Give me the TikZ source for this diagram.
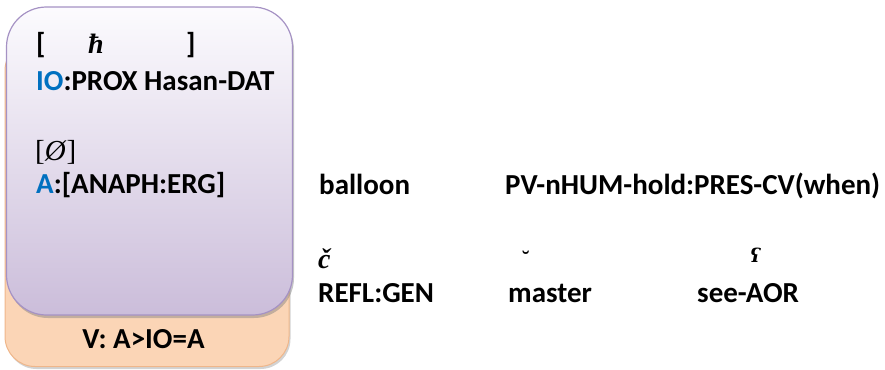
\documentclass[tikz,border=0pt]{standalone}
\usepackage{fontspec}
\setmainfont{Carlito}
\newfontfamily\symfont{DejaVu Serif}
\newfontfamily\serfont{Liberation Serif}
\usetikzlibrary{shadows}
\definecolor{lavtop}{HTML}{FCFBFE}
\definecolor{lavbot}{HTML}{CBBDDA}
\definecolor{lavedge}{HTML}{A592C4}
\definecolor{peach}{HTML}{FBD5B6}
\definecolor{peachedge}{HTML}{EFB68A}
\definecolor{roleblue}{HTML}{0070C0}
\tikzset{
  lbl/.style={anchor=base west, inner sep=0pt, font=\fontsize{29}{35}\selectfont\bfseries},
  sym/.style={anchor=base west, inner sep=0pt, font=\fontsize{28}{33}\selectfont\serfont\bfseries\itshape},
  vbox/.style={draw=peachedge, line width=1pt, fill=peach, rounded corners=30pt,
    drop shadow={shadow xshift=1.5pt, shadow yshift=-2.5pt, opacity=0.35}},
  argbox/.style={draw=lavedge, line width=1.2pt, rounded corners=40pt, top color=lavtop, bottom color=lavbot,
    drop shadow={shadow xshift=1.5pt, shadow yshift=-3pt, opacity=0.45}}
}
\begin{document}
\begin{tikzpicture}[x=1pt,y=-1pt]
\useasboundingbox (0,0) rectangle (885,369);
% boxes
\node[vbox, minimum width=284pt, minimum height=326pt, inner sep=0pt] (vb) at (147,203.5) {};
\node[argbox, minimum width=286pt, minimum height=308pt, inner sep=0pt] (ab) at (149.5,161) {};
\node[lbl, anchor=base] (vlabel) at (143.5,348) {V: A>IO=A};
% box texts
\node[lbl] (lb1) at (36,54) {[};
\node[sym] (hbar) at (88,54) {ħ};
\node[lbl] (rb1) at (186,54) {]};
\node[lbl] (io) at (36,90) {\textcolor{roleblue}{IO}:PROX Hasan-DAT};
\node[sym, font=\fontsize{29}{34}\selectfont\serfont] (zero) at (35,160) {[\textit{Ø}]};
\node[lbl] (aa) at (36,193) {\textcolor{roleblue}{A}:[ANAPH:ERG]};
% right side
\node[lbl] (balloon) at (319,194) {balloon};
\node[lbl] (pv) at (505,194) {PV-nHUM-hold:PRES-CV(when)};
\node[sym] (cc) at (318,268) {č};
\node[sym, font=\fontsize{22}{26}\selectfont\serfont\bfseries] (breve) at (522,266) {˘};
\node[sym, font=\fontsize{19}{22}\selectfont\symfont\bfseries\itshape] (ain) at (750,262) {ʕ};
\node[lbl] (refl) at (318,302) {REFL:GEN};
\node[lbl] (master) at (508,302) {master};
\node[lbl] (see) at (697,302) {see-AOR};
\end{tikzpicture}
\end{document}
